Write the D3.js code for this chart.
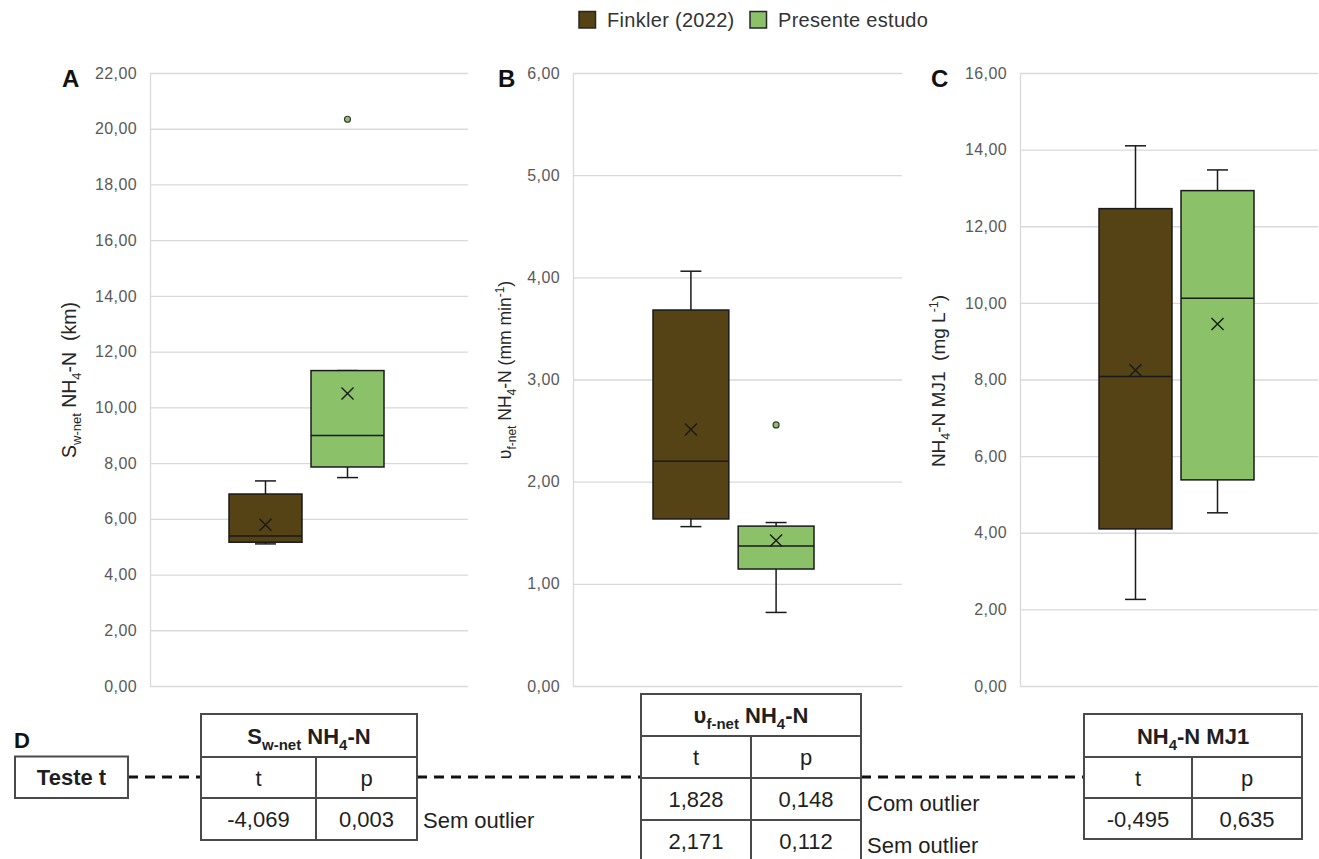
<!DOCTYPE html>
<html>
<head>
<meta charset="utf-8">
<script src="https://cdn.jsdelivr.net/npm/d3@7"></script>
<style>
  html, body { margin: 0; padding: 0; background: #ffffff; }
  svg { display: block; font-family: "Liberation Sans", Arial, sans-serif; }
  text { white-space: pre; }
</style>
</head>
<body>
<svg id="chart" width="1319" height="859"></svg>
<script>
// ---- Groups and colours ----
const groups = ["Finkler (2022)", "Presente estudo"];
const groupColors = ["#554215", "#8bc168"];

// ---- Panel A: S_w-net NH4-N (km) ----
const swTicks   = [0, 2, 4, 6, 8, 10, 12, 14, 16, 18, 20, 22];
const swMin     = [5.10, 7.48];
const swQ1      = [5.16, 7.86];
const swMedian  = [5.38, 8.99];
const swQ3      = [6.89, 11.32];
const swMax     = [7.36, 11.32];
const swMean    = [5.79, 10.50];
const swOutliers = [[], [20.34]];

// ---- Panel B: vf-net NH4-N (mm min-1) ----
const vfTicks   = [0, 1, 2, 3, 4, 5, 6];
const vfMin     = [1.56, 0.72];
const vfQ1      = [1.635, 1.145];
const vfMedian  = [2.20, 1.37];
const vfQ3      = [3.68, 1.565];
const vfMax     = [4.06, 1.60];
const vfMean    = [2.51, 1.425];
const vfOutliers = [[], [2.555]];

// ---- Panel C: NH4-N MJ1 (mg L-1) ----
const mjTicks   = [0, 2, 4, 6, 8, 10, 12, 14, 16];
const mjMin     = [2.26, 4.52];
const mjQ1      = [4.10, 5.38];
const mjMedian  = [8.08, 10.12];
const mjQ3      = [12.46, 12.93];
const mjMax     = [14.10, 13.47];
const mjMean    = [8.24, 9.45];
const mjOutliers = [[], []];

// ---- Panel D: t-test results ----
const swTest = [{ t: -4.069, p: 0.003, note: "Sem outlier" }];
const vfTest = [{ t: 1.828, p: 0.148, note: "Com outlier" },
                { t: 2.171, p: 0.112, note: "Sem outlier" }];
const mjTest = [{ t: -0.495, p: 0.635, note: "" }];

// Brazilian number formatting (comma decimal)
const ptBR = d3.formatLocale({ decimal: ",", thousands: ".", grouping: [3], currency: ["R$", ""], minus: "-" });
const fmtTick = ptBR.format(".2f");
const fmtVal = ptBR.format(".3f");

const svg = d3.select("#chart");
const INK = "#1a1a1a";
const GRID = "#d9d9d9";

// Rich text helper: parts = [[text, "sub"|"sup"|""], ...]
function richText(sel, parts, baseSize, smallSize) {
  let shift = 0;
  parts.forEach(([str, kind]) => {
    const target = kind === "sub" ? baseSize * 0.28 : kind === "sup" ? -baseSize * 0.38 : 0;
    sel.append("tspan")
      .attr("dy", target - shift)
      .attr("font-size", kind ? smallSize : baseSize)
      .text(str);
    shift = target;
  });
}

const panels = [
  { letter: "A", letterX: 62, ticks: swTicks, min: swMin, q1: swQ1, med: swMedian, q3: swQ3, max: swMax,
    mean: swMean, out: swOutliers, left: 150, right: 468, boxes: [229, 384],
    titleX: 76, titleY: 380, titleSize: 19.5, titleSmall: 13,
    title: [["S", ""], ["w-net", "sub"], [" NH", ""], ["4", "sub"], ["-N  (km)", ""]] },
  { letter: "B", letterX: 498, ticks: vfTicks, min: vfMin, q1: vfQ1, med: vfMedian, q3: vfQ3, max: vfMax,
    mean: vfMean, out: vfOutliers, left: 573, right: 902, boxes: [653, 814],
    titleX: 511, titleY: 370, titleSize: 17.5, titleSmall: 12,
    title: [["\u03c5", ""], ["f-net", "sub"], [" NH", ""], ["4", "sub"], ["-N (mm min", ""], ["-1", "sup"], [")", ""]] },
  { letter: "C", letterX: 931, ticks: mjTicks, min: mjMin, q1: mjQ1, med: mjMedian, q3: mjQ3, max: mjMax,
    mean: mjMean, out: mjOutliers, left: 1020, right: 1318, boxes: [1099, 1254],
    titleX: 945, titleY: 381, titleSize: 19, titleSmall: 12.5,
    title: [["NH", ""], ["4", "sub"], ["-N MJ1  (mg L", ""], ["-1", "sup"], [")", ""]] }
];

const TOP = 73, BOTTOM = 686;

panels.forEach(p => {
  const y = d3.scaleLinear().domain([p.ticks[0], p.ticks[p.ticks.length - 1]]).range([BOTTOM, TOP]);
  const x = d3.scaleBand().domain(groups).range(p.boxes).paddingInner(0.11).paddingOuter(0);
  const g = svg.append("g");

  // y axis with gridlines
  const axis = d3.axisLeft(y).tickValues(p.ticks).tickFormat(fmtTick)
    .tickSize(-(p.right - p.left)).tickSizeOuter(0).tickPadding(13);
  const ax = g.append("g").attr("transform", `translate(${p.left},0)`).call(axis);
  ax.select(".domain").attr("stroke", GRID).attr("stroke-width", 1.3);
  ax.selectAll(".tick line").attr("stroke", GRID).attr("stroke-width", 1.3);
  ax.selectAll(".tick text").attr("fill", "#595959").attr("font-size", 16)
    .attr("letter-spacing", 0.4).attr("font-family", "Liberation Sans, Arial, sans-serif");

  // panel letter
  g.append("text").attr("x", p.letterX).attr("y", 87)
    .attr("font-size", 24).attr("font-weight", "bold").attr("fill", "#111").text(p.letter);

  // axis title
  const t = g.append("text")
    .attr("transform", `translate(${p.titleX},${p.titleY}) rotate(-90)`)
    .attr("text-anchor", "middle").attr("fill", "#262626");
  richText(t, p.title, p.titleSize, p.titleSmall);

  const capHalf = 10.5;
  groups.forEach((grp, i) => {
    const bx = x(grp), bw = x.bandwidth(), cx = bx + bw / 2;
    const bg = g.append("g");
    // whiskers
    bg.append("line").attr("x1", cx).attr("x2", cx).attr("y1", y(p.max[i])).attr("y2", y(p.q3[i]))
      .attr("stroke", INK).attr("stroke-width", 1.5);
    bg.append("line").attr("x1", cx).attr("x2", cx).attr("y1", y(p.q1[i])).attr("y2", y(p.min[i]))
      .attr("stroke", INK).attr("stroke-width", 1.5);
    [p.max[i], p.min[i]].forEach(v => {
      bg.append("line").attr("x1", cx - capHalf).attr("x2", cx + capHalf).attr("y1", y(v)).attr("y2", y(v))
        .attr("stroke", INK).attr("stroke-width", 1.5);
    });
    // box
    bg.append("rect").attr("x", bx).attr("y", y(p.q3[i])).attr("width", bw)
      .attr("height", y(p.q1[i]) - y(p.q3[i]))
      .attr("fill", groupColors[i]).attr("stroke", INK).attr("stroke-width", 1.5);
    // median
    bg.append("line").attr("x1", bx).attr("x2", bx + bw).attr("y1", y(p.med[i])).attr("y2", y(p.med[i]))
      .attr("stroke", INK).attr("stroke-width", 1.5);
    // mean marker
    const my = y(p.mean[i]), s = 6;
    bg.append("path").attr("d", `M${cx - s},${my - s}L${cx + s},${my + s}M${cx - s},${my + s}L${cx + s},${my - s}`)
      .attr("stroke", INK).attr("stroke-width", 1.4).attr("fill", "none");
    // outliers
    bg.selectAll("circle.out").data(p.out[i]).join("circle").attr("class", "out")
      .attr("cx", cx).attr("cy", d => y(d)).attr("r", 3)
      .attr("fill", groupColors[i]).attr("stroke", "#3a3a3a").attr("stroke-width", 1.2);
  });
});

// ---- Legend ----
const legendX = [579, 750];
const leg = svg.append("g");
groups.forEach((grp, i) => {
  leg.append("rect").attr("x", legendX[i]).attr("y", 11.5).attr("width", 16.5).attr("height", 16.5)
    .attr("fill", groupColors[i]).attr("stroke", "#262626").attr("stroke-width", 1.5);
  leg.append("text").attr("x", legendX[i] + 28).attr("y", 27)
    .attr("font-size", 20).attr("letter-spacing", 0.3).attr("fill", "#333").text(grp);
});

// ---- Panel D: t-test tables ----
const BORDER = "#4a4a4a";
const TXT = "#1f1f1f";
const d = svg.append("g");

d.append("text").attr("x", 14).attr("y", 748).attr("font-size", 22).attr("font-weight", "bold")
  .attr("fill", "#111").text("D");

// dashed connector
const dashY = 777;
[[128, 201], [417, 641], [861, 1084]].forEach(([a, b]) => {
  d.append("line").attr("x1", a).attr("x2", b).attr("y1", dashY).attr("y2", dashY)
    .attr("stroke", "#111").attr("stroke-width", 3).attr("stroke-dasharray", "10,7");
});

// "Teste t" box
d.append("rect").attr("x", 15).attr("y", 756.5).attr("width", 113).attr("height", 41.5)
  .attr("fill", "#fff").attr("stroke", BORDER).attr("stroke-width", 2);
d.append("text").attr("x", 71.5).attr("y", 785).attr("text-anchor", "middle")
  .attr("font-size", 22).attr("font-weight", "bold").attr("fill", TXT).text("Teste t");

const tables = [
  { x0: 201, x1: 417, xd: 316, rows: [714, 757, 798, 840], rows2: swTest, noteDy: 1,
    head: [["S", ""], ["w-net", "sub"], [" NH", ""], ["4", "sub"], ["-N", ""]] },
  { x0: 641, x1: 861, xd: 751, rows: [694, 736, 778, 820, 862], rows2: vfTest, noteDy: 4,
    head: [["\u03c5", ""], ["f-net", "sub"], [" NH", ""], ["4", "sub"], ["-N", ""]] },
  { x0: 1084, x1: 1302, xd: 1192, rows: [714, 757, 798, 839], rows2: mjTest, noteDy: 0,
    head: [["NH", ""], ["4", "sub"], ["-N MJ1", ""]] }
];

tables.forEach(tb => {
  const tg = d.append("g");
  const r = tb.rows;
  // outer frame and row lines
  tg.append("rect").attr("x", tb.x0).attr("y", r[0]).attr("width", tb.x1 - tb.x0)
    .attr("height", r[r.length - 1] - r[0]).attr("fill", "#fff")
    .attr("stroke", BORDER).attr("stroke-width", 2);
  r.slice(1, -1).forEach(yy => {
    tg.append("line").attr("x1", tb.x0).attr("x2", tb.x1).attr("y1", yy).attr("y2", yy)
      .attr("stroke", BORDER).attr("stroke-width", 2);
  });
  tg.append("line").attr("x1", tb.xd).attr("x2", tb.xd).attr("y1", r[1]).attr("y2", r[r.length - 1])
    .attr("stroke", BORDER).attr("stroke-width", 2);

  const cxT = (tb.x0 + tb.xd) / 2, cxP = (tb.xd + tb.x1) / 2;
  const mid = (a, b) => (a + b) / 2 + 8;

  // header
  const h = tg.append("text").attr("x", (tb.x0 + tb.x1) / 2).attr("y", mid(r[0], r[1]))
    .attr("text-anchor", "middle").attr("font-size", 22).attr("font-weight", "bold").attr("fill", TXT);
  richText(h, tb.head, 22, 15);

  // t / p labels
  tg.append("text").attr("x", cxT).attr("y", mid(r[1], r[2])).attr("text-anchor", "middle")
    .attr("font-size", 22).attr("fill", TXT).text("t");
  tg.append("text").attr("x", cxP).attr("y", mid(r[1], r[2])).attr("text-anchor", "middle")
    .attr("font-size", 22).attr("fill", TXT).text("p");

  // value rows
  tb.rows2.forEach((row, k) => {
    const yy = mid(r[2 + k], r[3 + k]);
    tg.append("text").attr("x", cxT).attr("y", yy).attr("text-anchor", "middle")
      .attr("font-size", 22).attr("fill", TXT).text(fmtVal(row.t));
    tg.append("text").attr("x", cxP).attr("y", yy).attr("text-anchor", "middle")
      .attr("font-size", 22).attr("fill", TXT).text(fmtVal(row.p));
    if (row.note) {
      tg.append("text").attr("x", tb.x1 + 6).attr("y", yy + tb.noteDy)
        .attr("font-size", 22).attr("fill", TXT).text(row.note);
    }
  });
});
</script>
</body>
</html>
